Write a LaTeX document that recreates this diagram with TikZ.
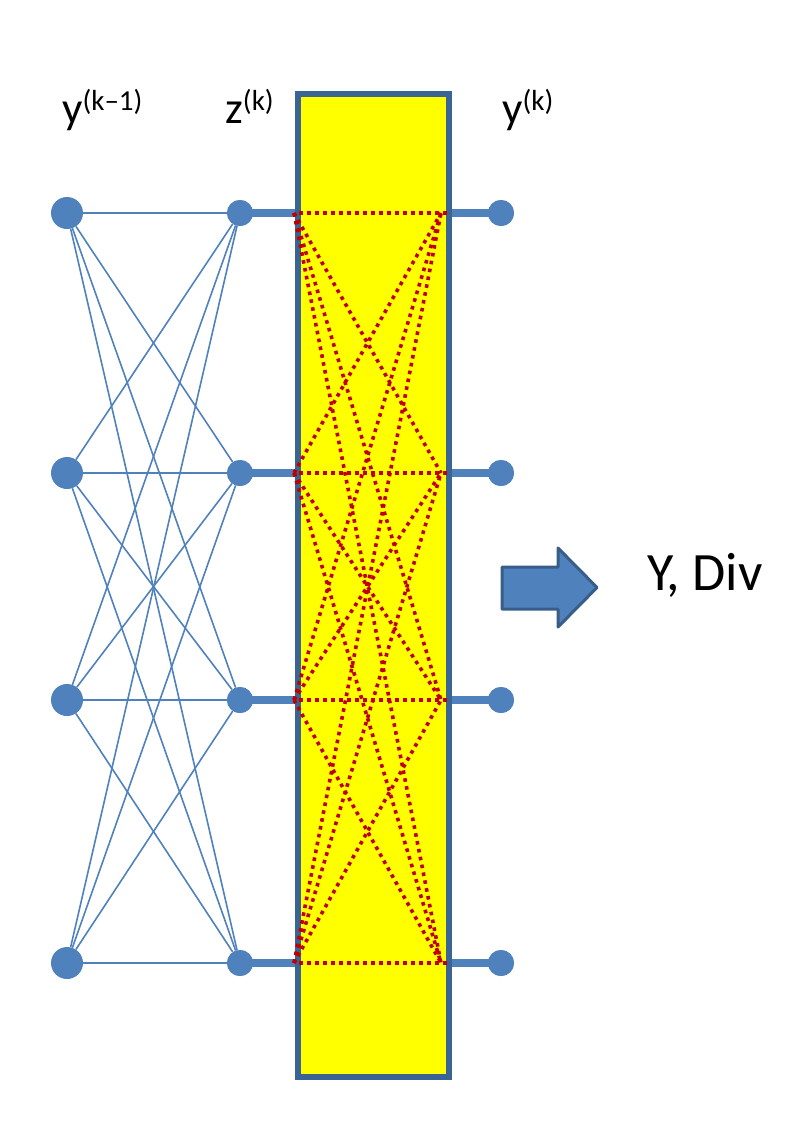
\documentclass[tikz,border=0pt]{standalone}
\usepackage{fontspec}
\setmainfont{Carlito}
\definecolor{nodeblue}{RGB}{79,129,189}
\definecolor{edgeblue}{RGB}{58,100,148}
\definecolor{arrowedge}{RGB}{56,93,138}
\definecolor{dotred}{RGB}{192,0,0}
\definecolor{boxyellow}{RGB}{255,255,0}
\tikzset{
  bignode/.style={circle, fill=nodeblue, inner sep=0pt, minimum size=32bp},
  smallnode/.style={circle, fill=nodeblue, inner sep=0pt, minimum size=26bp},
  thinedge/.style={draw=nodeblue, line width=1.6bp},
  thickedge/.style={draw=nodeblue, line width=8.5bp},
  reddot/.style={draw=dotred, line width=3.6bp, dash pattern=on 3.6bp off 4.4bp},
  boxstyle/.style={draw=edgeblue, line width=5.5bp, fill=boxyellow, minimum width=151bp, minimum height=983bp, inner sep=0pt},
  lbl/.style={inner sep=0pt, anchor=base west, font=\fontsize{45bp}{54bp}\selectfont},
}
\newcommand{\supk}[1]{\raisebox{13bp}{\fontsize{29bp}{34bp}\selectfont #1}}
\begin{document}
\begin{tikzpicture}[x=1bp,y=-1bp]
\useasboundingbox (0,0) rectangle (808,1124);
% nodes
\foreach \i/\r in {1/213,2/473,3/700,4/963}{
  \node[bignode] (a\i) at (67,\r) {};
  \node[smallnode] (z\i) at (240,\r) {};
  \node[smallnode] (y\i) at (501,\r) {};
}
\node[boxstyle] (box) at (373.5,585.5) {};
% thin full connections
\foreach \i in {1,...,4}{
  \foreach \j in {1,...,4}{
    \draw[thinedge] (a\i) -- (z\j);
  }
}
% thick connectors
\foreach \i in {1,...,4}{
  \draw[thickedge] (z\i.center) -- (z\i -| box.west);
  \draw[thickedge] (y\i.center) -- (y\i -| box.east);
}
% redraw box over thick lines
\node[boxstyle] (box2) at (373.5,585.5) {};
% red dotted connections
\foreach \i/\r in {1/213,2/473,3/700,4/963}{
  \coordinate (L\i) at (294,\r);
  \coordinate (R\i) at (441,\r);
  \coordinate (HL\i) at (299,\r);
  \coordinate (HR\i) at (447,\r);
}
\foreach \i in {1,...,4}{
  \draw[reddot] (HL\i) -- (HR\i);
  \foreach \j in {1,...,4}{
    \ifnum\i=\j\else
      \draw[reddot] (L\i) -- (R\j);
    \fi
  }
}
% nodes on top
\foreach \i/\r in {1/213,2/473,3/700,4/963}{
  \node[smallnode] at (z\i) {};
  \node[smallnode] at (y\i) {};
}
% labels
\node[lbl] (lab1) at (62,123) {y\supk{(k–1)}};
\node[lbl] (lab2) at (225,123) {z\supk{(k)}};
\node[lbl] (lab3) at (502,123) {y\supk{(k)}};
% arrow
\draw[fill=nodeblue, draw=arrowedge, line width=3bp, line join=round]
  (502,567) -- (558,567) -- (558,548) -- (597,587.5) -- (558,627) -- (558,609) -- (502,609) -- cycle;
\node[inner sep=0pt, anchor=base west, font=\fontsize{54bp}{64bp}\selectfont] (out) at (647,590) {Y, Div};
\end{tikzpicture}
\end{document}
